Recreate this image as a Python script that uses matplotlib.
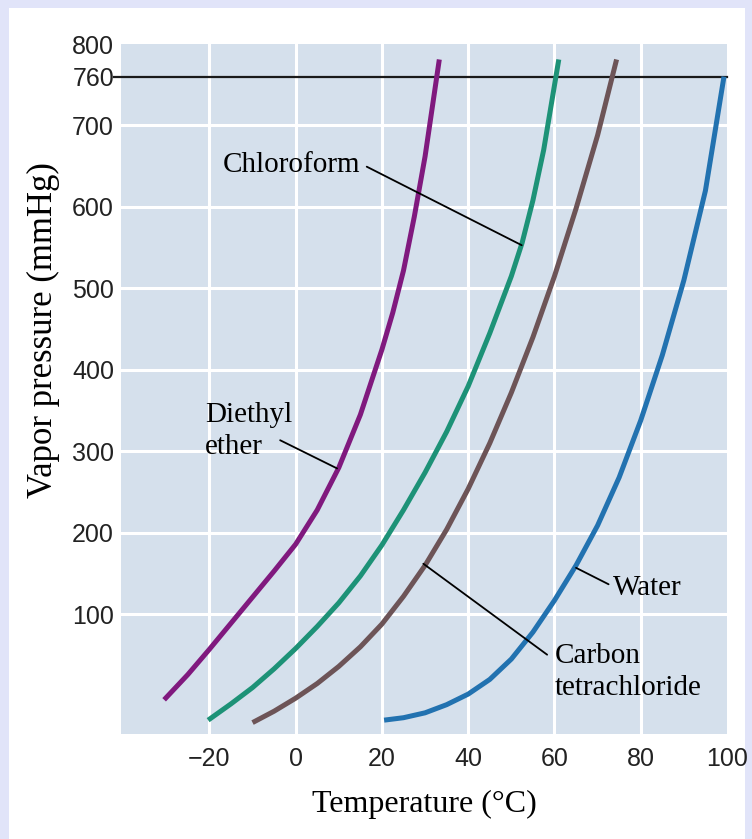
import matplotlib
matplotlib.use("Agg")
from matplotlib import pyplot as plt
from matplotlib.patches import Rectangle

# values (temperature in degC, pressure in mmHg)
T_ether = [-30.5, -25, -20, -15, -10, -5, 0, 5, 10, 15, 20, 22.5, 25, 27.5, 30, 33.3]
P_ether = [-5, 26, 57, 89, 121, 153, 186, 228, 280, 345, 425, 470, 522, 588, 662, 781]

T_chcl3 = [-20.3, -15, -10, -5, 0, 5, 10, 15, 20, 25, 30, 35, 40, 45, 50, 52.5, 55, 57.5, 61]
P_chcl3 = [-30, -10, 10, 33, 58, 85, 114, 147, 185, 228, 274, 324, 380, 445, 515, 556, 608, 670, 781]

T_ccl4 = [-10, -5, 0, 5, 10, 15, 20, 25, 30, 35, 40, 45, 50, 55, 60, 65, 70, 74.4]
P_ccl4 = [-33, -19, -3, 15, 36, 60, 88, 122, 160, 204, 254, 310, 372, 440, 515, 598, 688, 781]

T_water = [20.5, 25, 30, 35, 40, 45, 50, 55, 60, 65, 70, 75, 80, 85, 90, 95, 99.3]
P_water = [-30, -27, -21, -11, 2, 20, 45, 78, 117, 160, 209, 268, 338, 418, 510, 620, 760]

x_ticks = [-20, 0, 20, 40, 60, 80, 100]
y_ticks = [100, 200, 300, 400, 500, 600, 700, 760, 800]
atm = 760

serif = ['Liberation Serif', 'DejaVu Serif']
sans = ['Liberation Sans', 'DejaVu Sans']

fig = plt.figure(figsize=(7.52, 8.39), dpi=100, facecolor='#e1e4f9')
# white card behind the chart
fig.patches.append(Rectangle((9/752, 0), 736/752, 831/839, transform=fig.transFigure,
                             facecolor='white', edgecolor='none', zorder=-5))

ax = fig.add_axes([121/752, 1-734/839, 606/752, 690/839])
ax.set_zorder(2)
ax.set_facecolor('#d5e0ec')
ax.set_xlim(-40.5, 100)
ax.set_ylim(-47, 800)

for s in ax.spines.values():
    s.set_visible(False)

# white grid
for t in x_ticks[:-1]:
    ax.axvline(t, color='white', lw=2.2, zorder=1)
for p in y_ticks[:7]:
    ax.axhline(p, color='white', lw=2.2, zorder=1)

ax.axhline(atm, xmin=-0.012, xmax=1, color='#1a1a1a', lw=1.6, zorder=2, clip_on=False)

lw = 3.6
ax.plot(T_ether, P_ether, color='#80197e', lw=lw, zorder=3, solid_capstyle='butt')
ax.plot(T_chcl3, P_chcl3, color='#1d9277', lw=lw, zorder=3, solid_capstyle='butt')
ax.plot(T_ccl4, P_ccl4, color='#6d5457', lw=lw, zorder=3, solid_capstyle='butt')
ax.plot(T_water, P_water, color='#2272b0', lw=lw, zorder=3, solid_capstyle='butt')

ax.set_xticks(x_ticks)
ax.set_yticks(y_ticks)
ax.set_xticklabels(['\u221220' if v < 0 else str(v) for v in x_ticks], family=sans, fontsize=18)
ax.set_yticklabels([str(v) for v in y_ticks], family=sans, fontsize=18)
ax.tick_params(axis='both', length=0, colors='#222222')
ax.tick_params(axis='x', pad=9)
ax.tick_params(axis='y', pad=5)

ax.set_xlabel('Temperature (\u00b0C)', family=serif, fontsize=23, labelpad=14)
ax.set_ylabel('Vapor pressure (mmHg)', family=serif, fontsize=25)
ax.yaxis.set_label_coords(-0.101, 0.5855)

ann = dict(family=serif, fontsize=21, color='black', zorder=5)


def leader(rel):
    return dict(arrowstyle='-', color='black', lw=1.3, shrinkA=0, shrinkB=0,
                relpos=rel, patchA=None)


ax.annotate('Chloroform', xy=(52.4, 553), xytext=(-17, 651),
            ha='left', va='center', arrowprops=leader((1.05, 0.45)), **ann)
ax.annotate('Diethyl\nether', xy=(9.6, 279), xytext=(-21, 325),
            ha='left', va='center', linespacing=1.3, arrowprops=leader((0.86, 0.34)), **ann)
ax.annotate('Water', xy=(65, 157), xytext=(73.5, 132),
            ha='left', va='center', arrowprops=leader((-0.06, 0.65)), **ann)
ax.annotate('Carbon\ntetrachloride', xy=(29.6, 162), xytext=(60, 29),
            ha='left', va='center', linespacing=1.3, arrowprops=leader((-0.05, 0.8)), **ann)

fig.savefig('out.png', dpi=100, facecolor=fig.get_facecolor())
